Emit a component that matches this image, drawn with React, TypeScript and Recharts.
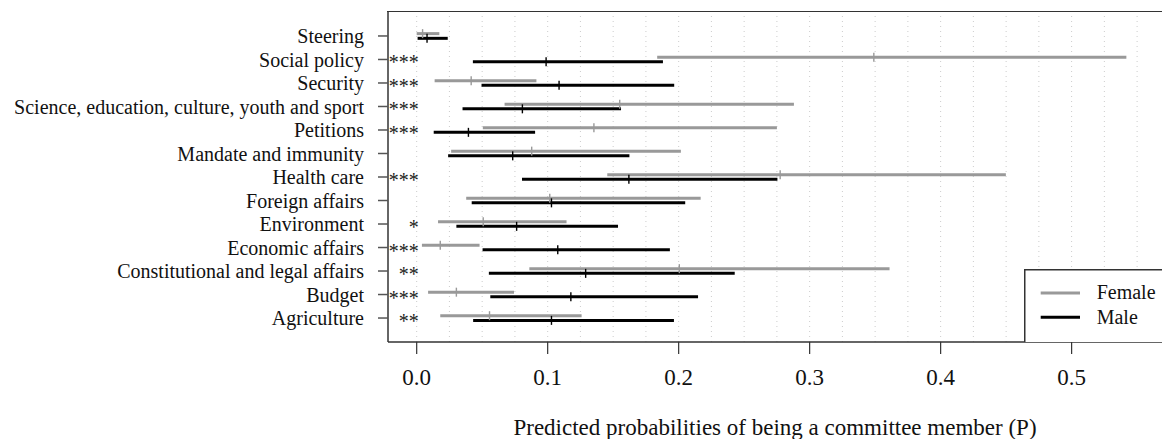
import {
  ScatterChart,
  Scatter,
  XAxis,
  YAxis,
  ErrorBar,
  ReferenceLine,
  Legend,
} from "recharts";

// bottom row first (y = 1), top row last
const categories = [
  "Agriculture",
  "Budget",
  "Constitutional and legal affairs",
  "Economic affairs",
  "Environment",
  "Foreign affairs",
  "Health care",
  "Mandate and immunity",
  "Petitions",
  "Science, education, culture, youth and sport",
  "Security",
  "Social policy",
  "Steering",
];

const femaleEst = [0.0556, 0.0303, 0.2005, 0.018, 0.0508, 0.1016, 0.2775, 0.0878, 0.1353, 0.155, 0.0416, 0.349, 0.0045];
const femaleLo = [0.018, 0.0087, 0.086, 0.004, 0.0163, 0.0378, 0.1455, 0.0263, 0.0505, 0.0671, 0.0137, 0.1836, 0.0];
const femaleHi = [0.1259, 0.0743, 0.361, 0.048, 0.1144, 0.2168, 0.4498, 0.2017, 0.275, 0.288, 0.0914, 0.5418, 0.0173];

const maleEst = [0.1029, 0.1177, 0.129, 0.1077, 0.0763, 0.1029, 0.162, 0.0733, 0.0395, 0.0807, 0.1087, 0.0988, 0.0079];
const maleLo = [0.0431, 0.0562, 0.0551, 0.0503, 0.0303, 0.042, 0.0804, 0.024, 0.013, 0.035, 0.0495, 0.0429, 0.0007];
const maleHi = [0.1964, 0.2148, 0.2428, 0.1933, 0.1537, 0.205, 0.2754, 0.1624, 0.0904, 0.156, 0.1966, 0.188, 0.0237];

const stars = ["**", "***", "**", "***", "*", "", "***", "", "***", "***", "***", "***", ""];

const xTicks = [0, 0.1, 0.2, 0.3, 0.4, 0.5];
const yTicks = [1, 2, 3, 4, 5, 6, 7, 8, 9, 10, 11, 12, 13];
const gridValues = [
  0, 0.025, 0.05, 0.075, 0.1, 0.125, 0.15, 0.175, 0.2, 0.225, 0.25, 0.275,
  0.3, 0.325, 0.35, 0.375, 0.4, 0.425, 0.45, 0.475, 0.5, 0.525, 0.55,
];

const X_DOMAIN: [number, number] = [-0.0219, 0.569];
const Y_DOMAIN: [number, number] = [-0.02, 14.02];
const OFFSET = 0.1;

const GRAY = "#999999";
const BLACK = "#000000";
const FRAME = "#333333";
const GRID = "#cccccc";
const FONT = "Liberation Serif, Times New Roman, serif";

const PLOT_LEFT = 388;
const PLOT_TOP = 12;

const femaleRows = categories.map((_, i) => ({
  x: femaleEst[i],
  y: i + 1 + OFFSET,
  err: [femaleEst[i] - femaleLo[i], femaleHi[i] - femaleEst[i]],
}));

const maleRows = categories.map((_, i) => ({
  x: maleEst[i],
  y: i + 1 - OFFSET,
  err: [maleEst[i] - maleLo[i], maleHi[i] - maleEst[i]],
}));

const starRows = categories
  .map((_, i) => ({ x: 0, y: i + 1, label: stars[i] }))
  .filter((r) => r.label !== "");

const tickMark = (color: string) => (props: any) => (
  <line
    x1={props.cx}
    x2={props.cx}
    y1={props.cy - 4.5}
    y2={props.cy + 4.5}
    stroke={color}
    strokeWidth={1.4}
  />
);

const starLabel = (props: any) => (
  <text
    x={props.cx + 2}
    y={props.cy + 10}
    textAnchor="end"
    fontSize={20}
    fontFamily={FONT}
    fill="#222"
  >
    {props.payload.label}
  </text>
);

function LegendBox({ payload }: any) {
  const items = (payload || []).filter((p: any) => p.type !== "none");
  return (
    <svg width={160} height={73} style={{ display: "block" }}>
      <rect x={0.75} y={0.75} width={200} height={80} fill="#fff" stroke={FRAME} strokeWidth={1.5} />
      {items.map((p: any, i: number) => (
        <g key={p.value}>
          <line x1={16.7} x2={56} y1={24 + i * 24.3} y2={24 + i * 24.3} stroke={p.color} strokeWidth={3} />
          <text x={72.7} y={30.3 + i * 25} fontSize={20} fontFamily={FONT} fill="#111">
            {p.value}
          </text>
        </g>
      ))}
    </svg>
  );
}

export default function App() {
  return (
    <div
      style={{
        position: "absolute",
        left: 0,
        top: 0,
        width: 1162,
        height: 439,
        overflow: "hidden",
        background: "#fff",
        fontFamily: FONT,
      }}
    >
      <ScatterChart
        width={1162}
        height={439}
        margin={{ top: PLOT_TOP, right: 0, bottom: 0, left: 0 }}
        style={{ fontFamily: FONT }}
      >
        {gridValues.map((v) => (
          <ReferenceLine key={`g${v}`} x={v} stroke={GRID} strokeDasharray="1 4" strokeWidth={1} />
        ))}
        <XAxis
          type="number"
          dataKey="x"
          domain={X_DOMAIN}
          allowDataOverflow
          ticks={xTicks}
          interval={0}
          height={97}
          tickSize={12}
          tickMargin={15}
          tickFormatter={(v: number) => v.toFixed(1)}
          tick={{ fontSize: 23, fontFamily: FONT, fill: "#111" }}
          axisLine={{ stroke: FRAME, strokeWidth: 1.5 }}
          tickLine={{ stroke: FRAME, strokeWidth: 1.2 }}
          label={{
            value: "Predicted probabilities of being a committee member (P)",
            position: "insideBottom",
            offset: 4,
            style: { fontSize: 23, fontFamily: FONT, fill: "#111" },
          }}
        />
        <YAxis
          type="number"
          dataKey="y"
          domain={Y_DOMAIN}
          allowDataOverflow
          ticks={yTicks}
          interval={0}
          width={PLOT_LEFT}
          tickSize={10}
          tickMargin={14}
          tickFormatter={(v: number) => categories[v - 1] ?? ""}
          tick={{ fontSize: 20, fontFamily: FONT, fill: "#111" }}
          axisLine={{ stroke: FRAME, strokeWidth: 1.5 }}
          tickLine={{ stroke: "#555", strokeWidth: 1.5 }}
        />
        <Scatter
          name="Female"
          data={femaleRows}
          fill={GRAY}
          shape={tickMark(GRAY)}
          isAnimationActive={false}
        >
          <ErrorBar
            dataKey="err"
            direction="x"
            width={0}
            stroke={GRAY}
            strokeWidth={3}
            isAnimationActive={false}
          />
        </Scatter>
        <Scatter
          name="Male"
          data={maleRows}
          fill={BLACK}
          shape={tickMark(BLACK)}
          isAnimationActive={false}
        >
          <ErrorBar
            dataKey="err"
            direction="x"
            width={0}
            stroke={BLACK}
            strokeWidth={3}
            isAnimationActive={false}
          />
        </Scatter>
        <Scatter
          name="stars"
          data={starRows}
          legendType="none"
          shape={starLabel}
          isAnimationActive={false}
        />
        <Legend
          verticalAlign="middle"
          align="center"
          content={(props: any) => <LegendBox payload={props.payload} />}
          wrapperStyle={{
            position: "absolute",
            left: 1024,
            top: 269,
            width: 160,
            height: 73,
            margin: 0,
            padding: 0,
          }}
        />
      </ScatterChart>
      {/* top edge of the plot frame */}
      <div
        style={{
          position: "absolute",
          left: PLOT_LEFT - 0.75,
          top: PLOT_TOP - 0.75,
          width: 800,
          height: 0,
          borderTop: `1.5px solid ${FRAME}`,
          pointerEvents: "none",
        }}
      />
    </div>
  );
}
